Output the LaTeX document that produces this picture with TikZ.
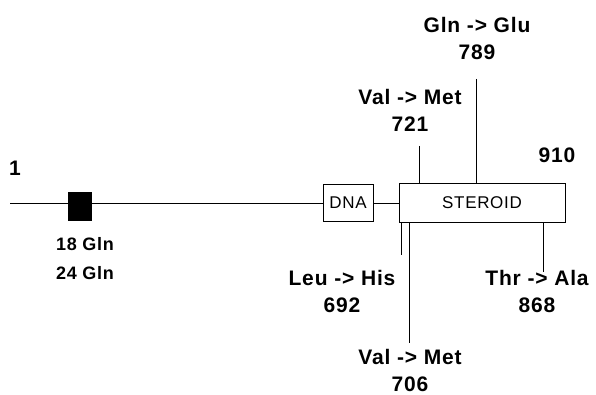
\documentclass[tikz,border=0pt]{standalone}
\usepackage{fontspec}
\setmainfont{Liberation Sans}
\newfontfamily\labfont[LetterSpace=4]{Liberation Sans}
\begin{document}
\begin{tikzpicture}[x=1pt,y=-1pt,
  lab/.style={font=\labfont\bfseries\fontsize{21}{27}\selectfont,align=center,inner sep=0pt},
  smalllab/.style={font=\labfont\bfseries\fontsize{18}{29}\selectfont,align=center,inner sep=0pt},
  dombox/.style={draw,line width=0.8pt,inner sep=0pt,font=\labfont\fontsize{17}{20}\selectfont},
  conn/.style={line width=0.8pt}]
\useasboundingbox (0,0) rectangle (596,395);
% backbone
\coordinate (start) at (10,203);
\node[dombox,minimum width=50pt,minimum height=37pt] (dna) at (348,203) {DNA};
\node[dombox,minimum width=166pt,minimum height=39pt] (ster) at (482,203) {STEROID};
\draw[conn] (start) -- (dna.west);
\draw[conn] (dna.east) -- (ster.west);
\node[fill=black,minimum width=24pt,minimum height=28pt,inner sep=0pt] (sq) at (80,206.5) {};
% labels
\node[lab] (one) at (15,168) {1};
\node[smalllab] (gln) at (85,258.5) {18 Gln\\24 Gln};
\node[lab] (l789) at (477,38.5) {Gln -> Glu\\789};
\node[lab] (l721) at (410,110) {Val -> Met\\721};
\node[lab] (l910) at (557,155) {910};
\node[lab] (l692) at (342,291.5) {Leu -> His\\692};
\node[lab] (l868) at (537,291.5) {Thr -> Ala\\868};
\node[lab] (l706) at (410,370) {Val -> Met\\706};
% mutation ticks
\coordinate (t721) at (419,146);
\coordinate (t789) at (476,79);
\coordinate (t692) at (401,255);
\coordinate (t706) at (409,343);
\coordinate (t868) at (543,272);
\draw[conn] (t721) -- (t721 |- ster.north);
\draw[conn] (t789) -- (t789 |- ster.north);
\draw[conn] (t692 |- ster.south) -- (t692);
\draw[conn] (t706 |- ster.south) -- (t706);
\draw[conn] (t868 |- ster.south) -- (t868);
\end{tikzpicture}
\end{document}
